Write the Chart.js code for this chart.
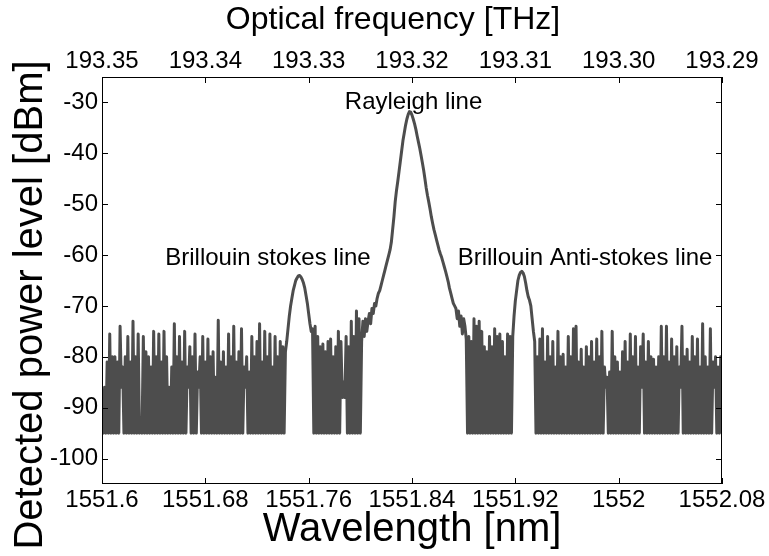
<!DOCTYPE html>
<html><head><meta charset="utf-8">
<script src="https://cdn.jsdelivr.net/npm/chart.js@4.4.0/dist/chart.umd.min.js"></script>
<style>html,body{margin:0;padding:0;background:#fff;} canvas{display:block;}</style>
</head><body>
<canvas id="c" width="769" height="556"></canvas>
<script>
// ---- data ----
const wavelengthStart = 1551.6;   // nm, first sample of the trace
const wavelengthStep = 0.001;     // nm, sample spacing of the trace
const powerDbm = [
  // 1551.600 - 1551.741 : noise floor
  -87,-95, -86,-95, -81,-95, -75.5,-95, -80,-95,
  -80,-95, -81,-95, -74,-86, -82,-95, -80,-95,
  -76,-95, -81,-95, -73,-95, -80,-95, -75.5,-95,
  -92,-95, -76,-95, -79,-95, -80,-95, -82,-95,
  -75,-95, -80,-95, -75.5,-95, -81,-95, -75,-95,
  -80,-95, -86,-95, -82,-95, -73.5,-95, -80,-95,
  -76,-95, -81,-95, -75,-95, -82,-86, -78,-95,
  -80,-95, -75.5,-95, -83,-86, -80,-95, -76,-95,
  -81,-95, -76.5,-95, -80,-95, -79,-95, -84,-95,
  -72.8,-95, -81,-95, -79,-95, -82,-95, -75.5,-95,
  -80,-95, -74,-95, -81,-95, -79,-95, -74.5,-95,
  -82,-86, -80,-95, -83,-95, -76,-95, -80,-95,
  -77,-95, -73.5,-95, -81,-95, -75,-95, -80,-95,
  -75.5,-95, -82,-95, -76,-95, -80,-95, -77,-95,
  -78,-95,
  // 1551.742 - 1551.763 : Brillouin Stokes line
  -79,-77,-74.5,-72,-70,-68.5,-67,-66,-65,-64.5,
  -64.1,-64,-64.3,-64.8,-65.5,-66.5,-68,-69.5,-71.5,-73.5,
  -75,-74.5,
  // 1551.764 - 1551.800 : noise
  -95,
  -74,-95, -76,-95, -78,-95, -77.5,-95, -79,-95,
  -77,-95, -76.5,-95, -80,-95, -78,-95, -75,-95,
  -77,-88, -85,-88, -76,-95, -78,-95, -73,-95,
  -76,-95, -71,-95, -72.5,
  -95,
  // 1551.801 - 1551.882 : Rayleigh line
  -77,-73,-76,-72.5,-75,-73,-71.5,-73.5,-70.5,-71.5,
  -69.5,-70,-68.5,-67.5,-67,-66,-65,-64,-63,-62,
  -61,-60,-59,-57.5,-55,-52.5,-49.5,-47.3,-45.5,-43.5,
  -41.5,-39.5,-37.5,-36,-34.5,-33.3,-32.4,-31.8,-31.9,-32.5,
  -33.3,-34.2,-35.3,-36.6,-37.8,-39,-40.4,-41.8,-43.3,-45,
  -46.8,-48.3,-49.6,-51,-52.5,-53.8,-55,-56,-57,-58,
  -59,-59.8,-60.5,-61.4,-62.3,-63.2,-64.2,-65.2,-66.5,-67.5,
  -68.5,-69.5,-70,-70.5,-72.5,-71,-74,-72,-75.5,-72.5,
  -74,-76.5,
  // 1551.883 - 1551.917 : noise
  -95,
  -76,-95, -77,-95, -72.5,-95, -74,-95, -73,-95,
  -75,-95, -78,-95, -79,-95, -76,-95, -78,-95,
  -74.5,-95, -76,-95, -75.5,-95, -77,-95, -80,-95,
  -75.5,-95, -76,-95,
  // 1551.918 - 1551.935 : Brillouin anti-Stokes line
  -76,-72,-69,-67,-65,-64,-63.4,-63.2,-63.5,-64.2,
  -65.5,-67,-68.2,-68.9,-70,-72.5,-75,-77,
  // 1551.936 - 1552.080 : noise floor
  -95,
  -80,-95, -76.5,-95, -74.5,-95, -81,-95, -76,-95,
  -80,-95, -77,-95, -82,-95, -75,-95, -80,-95,
  -79.5,-95, -82,-95, -76,-95, -80,-95, -74.5,-95,
  -74,-95, -81,-95, -78.5,-95, -82,-95, -78,-95,
  -80,-95, -77,-95, -81,-95, -76.5,-95, -80,-95,
  -75,-95, -82,-86, -84,-95, -83,-95, -75,-95,
  -80,-95, -81,-95, -83,-95, -79,-95, -77,-95,
  -81,-95, -75.5,-95, -80,-95, -76,-95, -82,-95,
  -78,-86, -75.5,-95, -81,-95, -77,-95, -80,-95,
  -80.5,-95, -82,-95, -80,-95, -74,-95, -80,-95,
  -74,-95, -81,-95, -76.5,-95, -80,-95, -78,-95,
  -82,-86, -74,-95, -80,-95, -78.5,-95, -81,-95,
  -76,-95, -80,-95, -76.5,-95, -82,-95, -73.5,-95,
  -80,-95, -82,-95, -74.5,-95, -81,-86, -80,-95,
  -82,-95, -80,-95
];
const wavelengthTicks = [1551.6, 1551.68, 1551.76, 1551.84, 1551.92, 1552.0, 1552.08];
const frequencyTicks = [193.35, 193.34, 193.33, 193.32, 193.31, 193.30, 193.29];
const powerTicks = [-100, -90, -80, -70, -60, -50, -40, -30];
const annotationTexts = ['Rayleigh line', 'Brillouin stokes line', 'Brillouin Anti-stokes line'];
const annotationWavelength = [1551.8412, 1551.7285, 1551.974];
const annotationPower = [-30, -60.6, -60.6];
const yTitleText = 'Detected power level [dBm]';
const topTitleText = 'Optical frequency [THz]';

// ---- build ----
const wavelengths = powerDbm.map((_, i) => +(wavelengthStart + i * wavelengthStep).toFixed(4));
const points = powerDbm.map((p, i) => ({x: wavelengths[i], y: p}));
const FAMILY = '"Liberation Sans", Arial, Helvetica, sans-serif';
Chart.defaults.font.family = FAMILY;
Chart.defaults.color = '#000';

const framePlugin = {
  id: 'frame',
  afterDraw(chart) {
    const {ctx, chartArea: {left, right, top, bottom}, scales} = chart;
    ctx.save();
    ctx.strokeStyle = '#000';
    ctx.lineWidth = 1;
    ctx.strokeRect(left + 0.5, top + 0.5, right - left - 1, bottom - top - 1);
    ctx.beginPath();
    scales.x.ticks.forEach(t => {
      const px = Math.round(scales.x.getPixelForValue(t.value)) + 0.5;
      ctx.moveTo(px, bottom); ctx.lineTo(px, bottom - 6);
      ctx.moveTo(px, top); ctx.lineTo(px, top + 6);
    });
    scales.y.ticks.forEach(t => {
      const py = Math.round(scales.y.getPixelForValue(t.value)) + 0.5;
      ctx.moveTo(left, py); ctx.lineTo(left + 6, py);
      ctx.moveTo(right, py); ctx.lineTo(right - 6, py);
    });
    ctx.stroke();
    ctx.fillStyle = '#000';
    ctx.font = '24px ' + FAMILY;
    ctx.textAlign = 'center';
    ctx.textBaseline = 'middle';
    annotationTexts.forEach((s, i) => {
      ctx.fillText(s, scales.x.getPixelForValue(annotationWavelength[i]), scales.y.getPixelForValue(annotationPower[i]));
    });
    // top axis title, placed as in the reference
    ctx.font = '32px ' + FAMILY;
    ctx.fillText(topTitleText, 393, 20);
    // y-axis title (rotated), placed as in the reference
    ctx.save();
    ctx.translate(31, 305);
    ctx.rotate(-Math.PI / 2);
    ctx.font = '40px ' + FAMILY;
    ctx.fillText(yTitleText, 0, 0);
    ctx.restore();
    ctx.restore();
  }
};

const tickFont = {family: FAMILY, size: 24};
const titleFont = {family: FAMILY, size: 40, lineHeight: 1};
const noPad = s => { s.paddingLeft = 0; s.paddingRight = 0; };

new Chart(document.getElementById('c'), {
  type: 'line',
  data: {
    datasets: [{
      data: points,
      borderColor: '#4d4d4d',
      borderWidth: 3,
      pointRadius: 0,
      tension: 0,
      fill: false,
      borderJoinStyle: 'round'
    }]
  },
  options: {
    responsive: false,
    animation: false,
    devicePixelRatio: 1,
    layout: {padding: {left: 0, right: 47, top: 0, bottom: 0}},
    plugins: {legend: {display: false}, tooltip: {enabled: false}},
    scales: {
      x: {
        type: 'linear', position: 'bottom', min: 1551.6, max: 1552.08,
        afterBuildTicks: s => { s.ticks = wavelengthTicks.map(v => ({value: v})); },
        ticks: {autoSkip: false, maxRotation: 0, padding: 2, color: '#000', font: tickFont,
          callback: v => String(parseFloat(Number(v).toFixed(2)))},
        grid: {display: false, drawTicks: false},
        border: {display: false},
        title: {display: true, text: 'Wavelength [nm]', color: '#000', font: titleFont, padding: {top: 0, bottom: 6}},
        afterFit: s => { s.height = 72; noPad(s); }
      },
      x2: {
        type: 'linear', position: 'top', min: 193.29, max: 193.35, reverse: true,
        afterBuildTicks: s => { s.ticks = frequencyTicks.map(v => ({value: v})); },
        ticks: {autoSkip: false, maxRotation: 0, padding: 1, color: '#000', font: tickFont,
          callback: v => Number(v).toFixed(2)},
        grid: {display: false, drawTicks: false},
        border: {display: false},
        title: {display: false, text: topTitleText},
        afterFit: s => { s.height = 77; noPad(s); }
      },
      y: {
        type: 'linear', position: 'left', min: -105, max: -25,
        afterBuildTicks: s => { s.ticks = powerTicks.map(v => ({value: v})); },
        ticks: {autoSkip: false, padding: 4, color: '#000', font: tickFont, callback: v => String(v)},
        grid: {display: false, drawTicks: false},
        border: {display: false},
        title: {display: false, text: yTitleText},
        afterFit: s => { s.width = 102; s.paddingTop = 0; s.paddingBottom = 0; }
      }
    }
  },
  plugins: [framePlugin]
});
</script>
</body></html>
